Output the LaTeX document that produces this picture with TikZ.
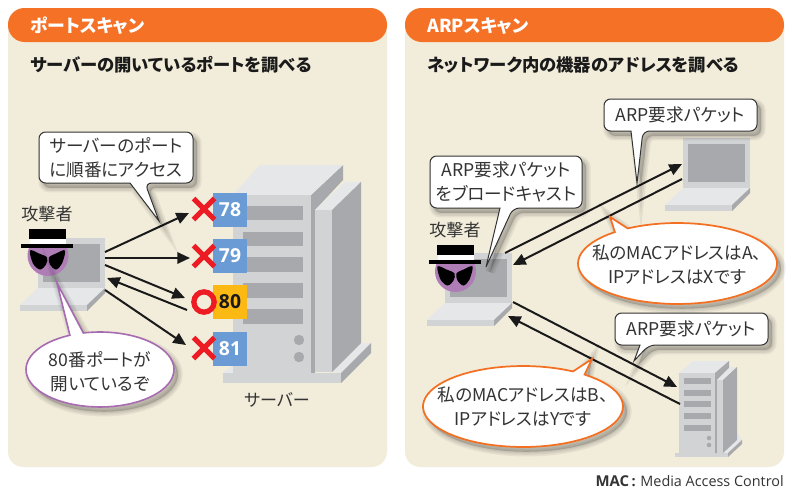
\documentclass[tikz,border=0pt]{standalone}
\usepackage{fontspec}
\setmainfont{Noto Sans CJK JP}[RawFeature={+palt}]
\newfontfamily\latinf{Open Sans}
\usetikzlibrary{arrows.meta}
\definecolor{panel}{HTML}{F2ECDA}
\definecolor{hdr}{HTML}{F47125}
\definecolor{lightg}{HTML}{E6E7E8}
\definecolor{midg}{HTML}{D1D3D4}
\definecolor{darkg}{HTML}{A7A9AC}
\definecolor{portblue}{HTML}{6A9BD4}
\definecolor{portyel}{HTML}{FDB913}
\definecolor{crossred}{HTML}{ED1C24}
\definecolor{ink}{HTML}{1A1A1A}
\definecolor{txt}{HTML}{333333}
\definecolor{callp}{HTML}{A66BB0}
\definecolor{faceP}{HTML}{AE7DB6}
\definecolor{callo}{HTML}{F36F21}
\tikzset{
  x=0.75pt,y=-0.75pt,
  flow/.style={draw=ink,line width=1.5pt,-{Triangle[length=9.5pt,width=8.5pt]}},
  headtext/.style={anchor=west,inner sep=0,text=white,font=\fontsize{13.4}{15}\selectfont\bfseries},
  titletext/.style={anchor=west,inner sep=0,text=ink,font=\fontsize{13}{15}\selectfont\bfseries},
  bubtext/.style={inner sep=0,align=center,text=txt,font=\fontsize{13.2}{18}\selectfont},
  plain/.style={inner sep=0,text=txt,font=\fontsize{12.8}{15}\selectfont},
  porttext/.style={inner sep=0,font=\latinf\fontsize{14.5}{16}\selectfont\bfseries},
  portbox/.style={fill=portblue,draw=none},
  crossmark/.style={draw=crossred,line width=3.9pt},
  graybub/.style={fill=white,draw=txt,line width=0.75pt},
  purplebub/.style={fill=white,draw=callp,line width=1.2pt},
  orangebub/.style={fill=white,draw=callo,line width=1.3pt},
}
% soft shadow + outline
\newcommand\shadowbub[2]{%
  \foreach \w in {7,4.5,2}{\path[fill=black,draw=black,opacity=.06,line width=\w pt,xshift=3pt,yshift=-3.6pt] #2;}
  \draw[#1] #2;}
\newcommand\laptop[3]{% x y name
  \begin{scope}[shift={(#1,#2)}]
    \fill[midg] (0,0) rectangle (67,50);
    \fill[darkg] (5,6) rectangle (62,44);
    \fill[lightg] (0,50) -- (67,50) -- (49,67) -- (-18,67) -- cycle;
    \fill[midg] (-18,67) rectangle (49,73);
    \fill[darkg] (67,50) -- (67,55) -- (49,73) -- (49,67) -- cycle;
  \end{scope}}
\newcommand\spy[2]{%
  \begin{scope}[shift={(#1,#2)}]
    \fill[faceP] (0,0) circle[radius=20.5*.75pt];
    \fill[white] (-18,-17) rectangle (18,-12);
    \fill[black] (-19,-27) rectangle (18,-17);
    \fill[black] (-27,-12) rectangle (25,-7.5);
    \fill[black] plot[smooth cycle,tension=.55] coordinates {(-18,-5) (-9,-2) (-1,2) (-2,9) (-8,14) (-15,8)};
    \fill[black] plot[smooth cycle,tension=.55] coordinates {(17,-5) (8,-2) (1,2) (2,9) (8,14) (14,8)};
  \end{scope}}
\newcommand\ellipsepath[7]{plot[domain=#5:#6,samples=70,variable=\t] ({#1+#2*cos(\t)},{#3+#4*sin(\t)}) -- #7 -- cycle}
\begin{document}
\begin{tikzpicture}
\useasboundingbox (0,0) rectangle (800,496);
\fill[white] (0,0) rectangle (800,496);
% panels
\fill[panel,rounded corners=11.5pt] (8,8) rectangle (387,467);
\fill[panel,rounded corners=11.5pt] (405,8) rectangle (784,467);
\fill[hdr,rounded corners=12.5pt] (8,8) rectangle (387,42);
\fill[hdr,rounded corners=12.5pt] (405,8) rectangle (784,42);
\node[headtext] (h1) at (30,26) {ポートスキャン};
\node[headtext] (h2) at (427,26) {ARPスキャン};
\node[titletext] (t1) at (30,65) {サーバーの開いているポートを調べる};
\node[titletext] (t2) at (427,65) {ネットワーク内の機器のアドレスを調べる};
% big server
\fill[lightg] (223,373) -- (233,365) -- (233,373) -- cycle;
\fill[lightg] (332,372) -- (361,343) -- (371,343) -- (341,373) -- cycle;
\fill[midg] (223,373) rectangle (341,383);
\fill[darkg] (341,373) -- (371,343) -- (371,353) -- (341,383) -- cycle;
\fill[darkg] (311,195) -- (343,165) -- (343,180) -- (315,210) -- (315,372) -- (311,372) -- cycle;
\fill[lightg] (233,195) -- (260,165) -- (343,165) -- (311,195) -- cycle;
\fill[midg] (233,195) rectangle (311,373);
\fill[darkg] (311,195) rectangle (315,373);
\fill[lightg] (315,210) -- (345,182) -- (361,182) -- (332,210) -- cycle;
\fill[midg] (315,210) rectangle (332,372);
\fill[darkg] (332,210) -- (361,182) -- (361,343) -- (332,372) -- cycle;
\foreach \a/\b in {206/220,232/246,257/272,283/298,309/324}{\fill[darkg] (243,\a) rectangle (303,\b);}
\fill[darkg] (299,340) circle[radius=3.9pt];
\fill[darkg] (299,357) circle[radius=3.9pt];
\node[plain] (srvlabel) at (277,400) {サーバー};
% ports
\node[portbox,minimum width=25.5pt,minimum height=25.5pt,inner sep=0] (p78) at (230,210) {};
\node[portbox,minimum width=25.5pt,minimum height=25.5pt,inner sep=0] (p79) at (230,256) {};
\node[portbox,fill=portyel,minimum width=25.5pt,minimum height=25.5pt,inner sep=0] (p80) at (230,302) {};
\node[portbox,minimum width=25.5pt,minimum height=25.5pt,inner sep=0] (p81) at (230,349) {};
\node[porttext,text=white] (n78) at (230,210) {78};
\node[porttext,text=white] (n79) at (230,256) {79};
\node[porttext,text=ink] (n80) at (230,302) {80};
\node[porttext,text=white] (n81) at (230,349) {81};
\foreach \yy in {209,256,348}{\draw[crossmark] (193.5,\yy-10.5) -- (214.5,\yy+10.5) (214.5,\yy-10.5) -- (193.5,\yy+10.5);}
\draw[draw=crossred,line width=4pt] (204,302) circle[radius=7.6pt];
% devices
\laptop{38}{238}{a}
\spy{48}{255.5}
\laptop{445}{253}{b}
\spy{455.5}{271.5}
\laptop{683}{138}{c}
% small server
\fill[lightg] (715,453) -- (737,432) -- (742,440) -- (728,453) -- cycle;
\fill[midg] (675,453) rectangle (728,457);
\fill[darkg] (728,453) -- (742,440) -- (742,444) -- (728,457) -- cycle;
\fill[lightg] (679,373) -- (693,361) -- (729,361) -- (715,373) -- cycle;
\fill[darkg] (715,373) -- (729,361) -- (729,368) -- (717,380) -- (717,453) -- (715,453) -- cycle;
\fill[midg] (679,373) rectangle (715,453);
\fill[darkg] (715,373) rectangle (717,453);
\fill[lightg] (717,380) -- (730,367) -- (737,367) -- (723,380) -- cycle;
\fill[midg] (717,380) rectangle (723,453);
\fill[darkg] (723,380) -- (737,367) -- (737,440) -- (723,453) -- cycle;
\foreach \a/\b in {378/384,390/396,401/407,413/419,425/431}{\fill[darkg] (684,\a) rectangle (711,\b);}
\fill[darkg] (709,438) circle[radius=1.7pt];
\fill[darkg] (709,445) circle[radius=1.7pt];
% connector ends
\coordinate (a1) at (105,252); \coordinate (q78) at (189,213);
\coordinate (a2) at (105,258); \coordinate (q79) at (190,258);
\coordinate (a3) at (105,265); \coordinate (q80a) at (185,298);
\coordinate (q80b) at (187,310); \coordinate (a4) at (107,278);
\coordinate (a5) at (105,290); \coordinate (q81) at (186,345);
\coordinate (b1) at (505,253); \coordinate (c1) at (682,164);
\coordinate (c2) at (682,179); \coordinate (b2) at (513,265);
\coordinate (b3) at (513,302); \coordinate (s1) at (677,387);
\coordinate (s2) at (680,404); \coordinate (b4) at (508,316);
\draw[flow] (a1) -- (q78);
\draw[flow] (a2) -- (q79);
\draw[flow] (a3) -- (q80a);
\draw[flow] (q80b) -- (a4);
\draw[flow] (a5) -- (q81);
\draw[flow] (b1) -- (c1);
\draw[flow] (c2) -- (b2);
\draw[flow] (b3) -- (s1);
\draw[flow] (s2) -- (b4);
\node[plain] (atk1) at (47,214) {攻撃者};
\node[plain] (atk2) at (455,230) {攻撃者};
% callouts
\shadowbub{graybub}{[rounded corners=5pt] (130,183) -- (39,183) -- (39,132) -- (193,132) -- (193,183) -- (145,183) [sharp corners] -- (159,221) -- cycle}
\node[bubtext] (c1t) at (116,157.5) {サーバーのポート\\に順番にアクセス};
\shadowbub{graybub}{[rounded corners=5pt] (500,208) -- (430,208) -- (430,156) -- (582,156) -- (582,208) -- (513,208) [sharp corners] -- (486,267) -- cycle}
\node[bubtext] (c2t) at (506,182) {ARP要求パケット\\をブロードキャスト};
\shadowbub{graybub}{[rounded corners=5pt] (631,131) -- (604,131) -- (604,99) -- (757,99) -- (757,131) -- (643,131) [sharp corners] -- (637,183) -- cycle}
\node[bubtext] (c3t) at (680,115) {ARP要求パケット};
\shadowbub{graybub}{[rounded corners=5pt] (640,345) -- (615,345) -- (615,313) -- (768,313) -- (768,345) -- (649,345) [sharp corners] -- (634,361) -- cycle}
\node[bubtext] (c4t) at (691,329) {ARP要求パケット};
\coordinate (tipP) at (57,283);
\coordinate (tipO1) at (610,217);
\coordinate (tipO2) at (592,359);
\shadowbub{purplebub}{\ellipsepath{100}{74}{369.5}{37.5}{257}{606}{(tipP)}}
\node[bubtext] (e1t) at (100,372) {80番ポートが\\開いているぞ};
\shadowbub{orangebub}{\ellipsepath{677.5}{99.5}{263.5}{40.5}{240}{591}{(tipO1)}}
\node[bubtext] (e2t) at (677,265) {私のMACアドレスはA、\\IPアドレスはXです};
\shadowbub{orangebub}{\ellipsepath{523}{100}{406.5}{40.5}{308}{660}{(tipO2)}}
\node[bubtext] (e3t) at (523,407) {私のMACアドレスはB、\\IPアドレスはYです};
\node[anchor=east,inner sep=0,text=txt,font=\latinf\fontsize{10.8}{14}\selectfont] (foot) at (784,481) {\textbf{\fontsize{11.2}{14}\selectfont MAC}\,\textbf{:}\,\,Media Access Control};
\end{tikzpicture}
\end{document}
